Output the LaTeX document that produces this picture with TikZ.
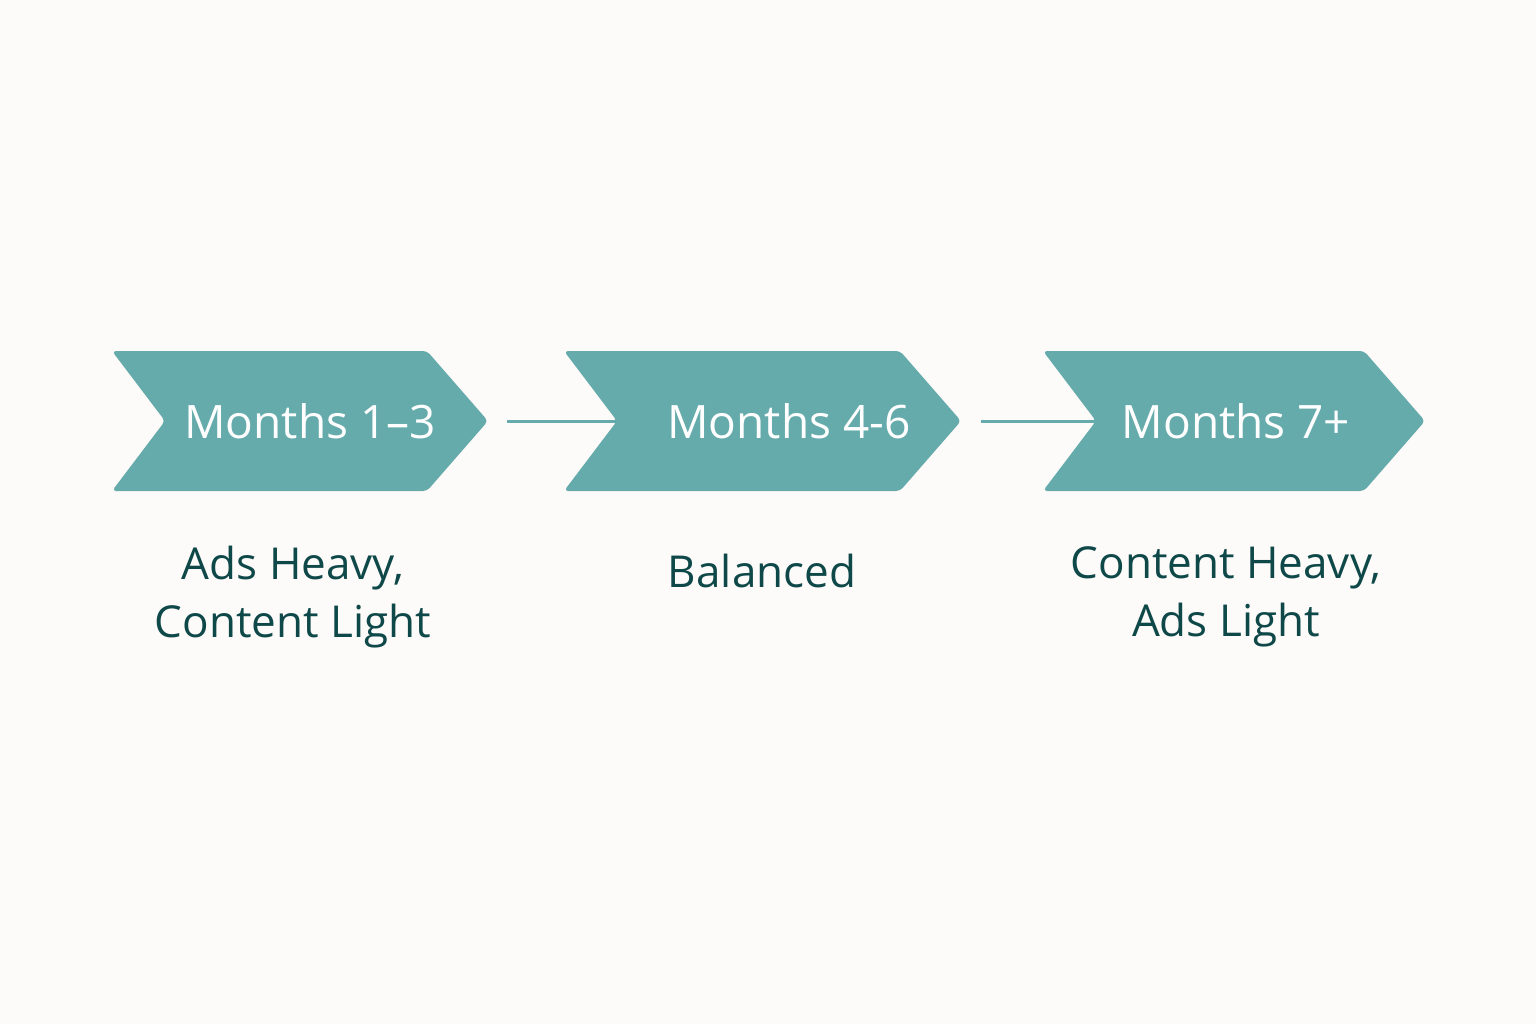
\documentclass[tikz,border=0pt]{standalone}
\usepackage{fontspec}
\setmainfont{Open Sans}
\begin{document}
\begin{tikzpicture}[x=1pt,y=-1pt,
  chev/.style={fill=teal1,rounded corners=4pt},
  ttl/.style={text=white,font=\fontsize{46}{50}\selectfont},
  lbl/.style={text=dark1,font=\fontsize{44}{58}\selectfont,align=center},
  conn/.style={draw=teal1,line width=3pt}]
\definecolor{teal1}{HTML}{66ABAB}
\definecolor{dark1}{HTML}{0F4848}
\fill[fill={rgb,255:red,252;green,251;blue,249}] (0,0) rectangle (1536,1024);
\useasboundingbox (0,0) rectangle (1536,1024);
\foreach \x/\w in {112/315,564/336,1043/321}{
  \path[chev] (\x,351) -- (\x+\w,351) -- (\x+\w+61,421) -- (\x+\w,491) -- (\x,491) -- (\x+53,421) -- cycle;
}
\node[ttl] (t1) at (310,421) {Months 1–3};
\node[ttl] (t2) at (789,421) {Months 4-6};
\node[ttl] (t3) at (1236,421) {Months 7+};
\coordinate (e1) at (507,421); \coordinate (n2) at (617,421);
\coordinate (e2) at (981,421); \coordinate (n3) at (1096,421);
\draw[conn] (e1) -- (n2);
\draw[conn] (e2) -- (n3);
\node[lbl] (l1) at (293,597) {Ads Heavy,\\Content Light};
\node[lbl] (l2) at (762,571) {Balanced};
\node[lbl] (l3) at (1226,597) {Content Heavy,\\Ads Light};
\end{tikzpicture}
\end{document}
